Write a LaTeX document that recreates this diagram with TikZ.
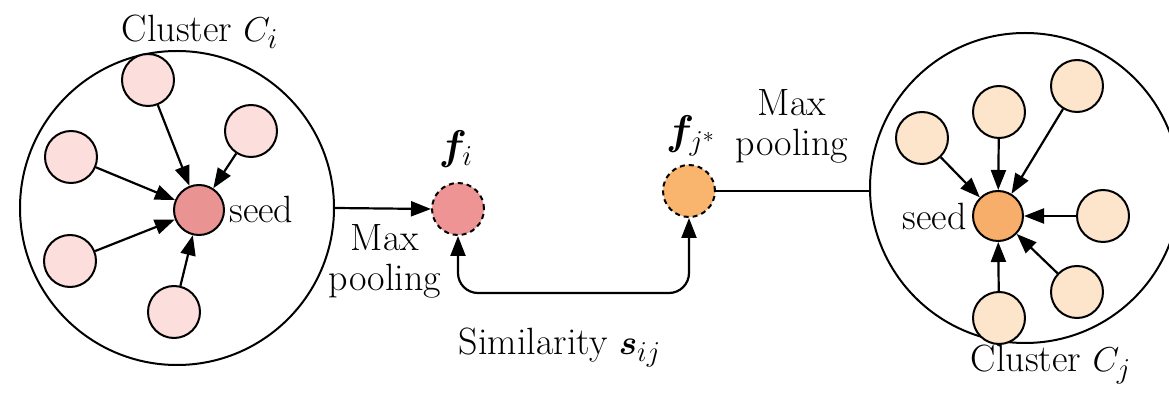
\documentclass[tikz,border=0pt]{standalone}
\usepackage{amsmath}
\usepackage{bm}
\usetikzlibrary{arrows.meta}
\definecolor{pinkL}{HTML}{FCDEDD}
\definecolor{pinkS}{HTML}{E99493}
\definecolor{pinkF}{HTML}{EE9494}
\definecolor{peachL}{HTML}{FDE5CC}
\definecolor{peachS}{HTML}{F6AE6A}
\definecolor{peachF}{HTML}{F9B46E}
\tikzset{
  sat/.style={circle,draw,line width=1pt,minimum size=26pt,inner sep=0pt},
  seednode/.style={circle,draw,line width=1pt,minimum size=25pt,inner sep=0pt},
  feat/.style={circle,draw,line width=1pt,dash pattern=on 2.5pt off 2pt,minimum size=26pt,inner sep=0pt},
  cluster/.style={circle,draw,line width=1pt,inner sep=0pt},
  arr/.style={line width=1.1pt,-{Triangle[length=10pt,width=7.5pt]}},
  lbl/.style={font=\rmfamily\fontsize{19}{20}\selectfont,inner sep=0pt},
}
\begin{document}
\begin{tikzpicture}[x=0.5pt,y=-0.5pt]
\useasboundingbox (0,0) rectangle (1169,395);
% left cluster
\node[cluster,minimum size=157pt] (Ci) at (177,208) {};
\node[seednode,fill=pinkS] (si) at (199,210) {};
\node[sat,fill=pinkL] (a1) at (148,80) {};
\node[sat,fill=pinkL] (a2) at (251,131) {};
\node[sat,fill=pinkL] (a3) at (71,157) {};
\node[sat,fill=pinkL] (a4) at (70,261) {};
\node[sat,fill=pinkL] (a5) at (174,312) {};
\foreach \n in {a1,a2,a3,a4,a5} \draw[arr] (\n) -- (si);
\node[lbl,anchor=base west] (seedi) at (229,223) {seed};
\node[lbl,anchor=base] (Cilab) at (200,42) {Cluster $C_i$};
% features
\node[feat,fill=pinkF] (fi) at (458,209) {};
\node[feat,fill=peachF] (fj) at (689,191) {};
\node[lbl,font=\fontsize{22}{22}\selectfont] (filab) at (456,149) {$\bm{f}_{i}$};
\node[lbl,font=\fontsize{22}{22}\selectfont] (fjlab) at (691,136) {$\bm{f}_{j^*}$};
\draw[arr] (Ci.east) -- (fi.west);
\node[lbl,align=center] (mp1) at (385,261) {Max\\pooling};
% right cluster
\node[cluster,minimum size=155pt] (Cj) at (1025,188) {};
\node[seednode,fill=peachS] (sj) at (998,216) {};
\node[sat,fill=peachL] (b1) at (922,138) {};
\node[sat,fill=peachL] (b2) at (999,112) {};
\node[sat,fill=peachL] (b3) at (1077,86) {};
\node[sat,fill=peachL] (b4) at (1103,216) {};
\node[sat,fill=peachL] (b5) at (1077,292) {};
\node[sat,fill=peachL] (b6) at (999,318) {};
\foreach \n in {b1,b2,b3,b4,b5,b6} \draw[arr] (\n) -- (sj);
\node[lbl,anchor=base east] (seedj) at (967,230) {seed};
\node[lbl,anchor=base] (Cjlab) at (1051,372) {Cluster $C_j$};
\draw[line width=1.1pt] (fj.east) -- (fj.east -| Cj.west);
\node[lbl,align=center] (mp2) at (792,126) {Max\\pooling};
% similarity
\coordinate (low) at (0,293);
\draw[line width=1.1pt,{Triangle[length=10pt,width=7.5pt]}-{Triangle[length=10pt,width=7.5pt]},rounded corners=10pt]
  (fi.south) -- (fi.south |- low) -| (fj.south);
\node[lbl,anchor=base] (simlab) at (560,355) {Similarity $\bm{s}_{ij}$};
\end{tikzpicture}
\end{document}
